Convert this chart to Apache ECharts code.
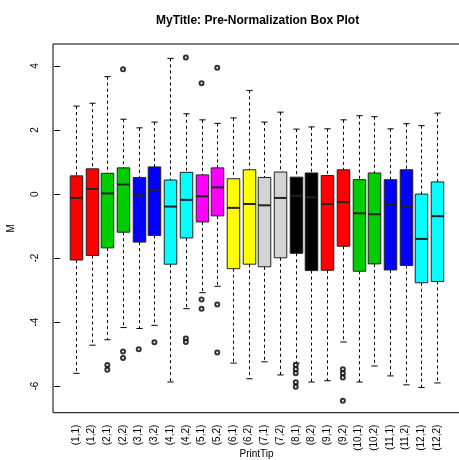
<!DOCTYPE html>
<html>
<head>
<meta charset="utf-8">
<script src="https://cdn.jsdelivr.net/npm/echarts@6/dist/echarts.min.js"></script>
<style>html,body{margin:0;padding:0;background:#fff}#c{width:459px;height:460px}</style>
</head>
<body>
<div id="c"></div>
<script>
// Categories (print-tip groups)
var categories = ['(1,1)','(1,2)','(2,1)','(2,2)','(3,1)','(3,2)','(4,1)','(4,2)','(5,1)','(5,2)','(6,1)','(6,2)',
                  '(7,1)','(7,2)','(8,1)','(8,2)','(9,1)','(9,2)','(10,1)','(10,2)','(11,1)','(11,2)','(12,1)','(12,2)'];
// Box statistics, one entry per category
var whiskerLow  = [-5.60,-4.72,-4.55,-4.17,-4.20,-4.10,-5.87,-3.58,-3.08,-2.88,-5.28,-5.77,-5.24,-5.65,-5.28,-5.87,-5.83,-4.62,-5.87,-5.37,-5.68,-5.96,-6.04,-5.90];
var q1          = [-2.06,-1.92,-1.68,-1.19,-1.50,-1.29,-2.19,-1.37,-0.87,-0.68,-2.33,-2.19,-2.27,-1.99,-1.85,-2.39,-2.38,-1.63,-2.41,-2.18,-2.37,-2.23,-2.77,-2.73];
var medians     = [-0.12, 0.16, 0.02, 0.30,-0.04, 0.13,-0.39,-0.18,-0.07, 0.21,-0.43,-0.31,-0.35,-0.12,-0.05,-0.10,-0.31,-0.25,-0.60,-0.63,-0.31,-0.38,-1.40,-0.69];
var q3          = [ 0.57, 0.79, 0.65, 0.82, 0.52, 0.85, 0.44, 0.68, 0.60, 0.82, 0.48, 0.76, 0.52, 0.69, 0.53, 0.66, 0.58, 0.76, 0.45, 0.66, 0.45, 0.76, 0.00, 0.38];
var whiskerHigh = [ 2.75, 2.84, 3.67, 2.34, 2.07, 2.25, 4.24, 2.51, 2.32, 2.21, 2.38, 3.24, 2.25, 2.56, 2.03, 2.10, 2.04, 2.32, 2.45, 2.42, 2.04, 2.20, 2.14, 2.53];
var boxColors   = ['#ff0000','#ff0000','#00cd00','#00cd00','#0000ff','#0000ff','#00ffff','#00ffff','#ff00ff','#ff00ff','#ffff00','#ffff00',
                   '#d3d3d3','#d3d3d3','#000000','#000000','#ff0000','#ff0000','#00cd00','#00cd00','#0000ff','#0000ff','#00ffff','#00ffff'];
// Outliers: [category number (1-based), value]
var outliers = [
  [3,-5.34],[3,-5.49],
  [4,3.90],[4,-4.92],[4,-5.12],
  [5,-4.85],
  [6,-4.63],
  [8,4.27],[8,-4.51],[8,-4.62],
  [9,3.46],[9,-3.29],[9,-3.58],
  [10,3.95],[10,-3.45],[10,-4.95],
  [15,-5.34],[15,-5.47],[15,-5.60],[15,-5.88],[15,-6.02],
  [18,-5.47],[18,-5.60],[18,-5.73],[18,-6.46]
];
var yTicks = [-6,-4,-2,0,2,4];

var boxData = categories.map(function (c, i) {
  return [i + 1, whiskerLow[i], q1[i], medians[i], q3[i], whiskerHigh[i]];
});
var xTicks = categories.map(function (c, i) { return i + 1; });

function renderBox(params, api) {
  var x = api.value(0);
  var lo = api.coord([x, api.value(1)]);
  var b1 = api.coord([x, api.value(2)]);
  var md = api.coord([x, api.value(3)]);
  var b3 = api.coord([x, api.value(4)]);
  var hi = api.coord([x, api.value(5)]);
  var bw = api.size([0.8, 0])[0];
  var sw = bw / 2;
  var cx = Math.round(lo[0]) + 0.5;
  var dash = {stroke: '#000', lineWidth: 1, lineDash: [3, 3]};
  var solid = {stroke: '#000', lineWidth: 1};
  return {
    type: 'group',
    children: [
      {type: 'line', shape: {x1: cx, y1: hi[1], x2: cx, y2: b3[1]}, style: dash},
      {type: 'line', shape: {x1: cx, y1: b1[1], x2: cx, y2: lo[1]}, style: dash},
      {type: 'line', shape: {x1: cx - sw / 2, y1: hi[1], x2: cx + sw / 2, y2: hi[1]}, style: solid},
      {type: 'line', shape: {x1: cx - sw / 2, y1: lo[1], x2: cx + sw / 2, y2: lo[1]}, style: solid},
      {type: 'rect', shape: {x: cx - bw / 2, y: b3[1], width: bw, height: b1[1] - b3[1]},
        style: {fill: boxColors[params.dataIndex], stroke: '#222', lineWidth: 1}},
      {type: 'line', shape: {x1: cx - bw / 2, y1: md[1], x2: cx + bw / 2, y2: md[1]},
        style: {stroke: '#222', lineWidth: 2}}
    ]
  };
}

var chart = echarts.init(document.getElementById('c'), null, {renderer: 'canvas'});
chart.setOption({
  animation: false,
  backgroundColor: '#fff',
  title: {
    text: 'MyTitle: Pre-Normalization Box Plot',
    left: 151, top: 10,
    textStyle: {fontFamily: 'Liberation Sans', fontWeight: 'bold', fontSize: 12, color: '#000'}
  },
  grid: {
    left: 53, top: 44, width: 407, height: 368.7,
    show: true, borderColor: '#000', borderWidth: 1,
    containLabel: false, outerBoundsMode: 'none'
  },
  xAxis: {
    type: 'value', min: -0.46, max: 25.46,
    name: 'PrintTip', nameLocation: 'middle', nameGap: 37, nameMoveOverlap: false,
    nameTextStyle: {fontFamily: 'Liberation Sans', fontSize: 10, color: '#000'},
    axisLine: {show: false},
    splitLine: {show: false},
    axisTick: {show: true, length: 6, customValues: xTicks, lineStyle: {color: '#000'}},
    axisLabel: {
      customValues: xTicks, rotate: 90, margin: 12,
      fontFamily: 'Liberation Sans', fontSize: 10, color: '#000',
      formatter: function (v) { return categories[Math.round(v) - 1] || ''; }
    }
  },
  yAxis: {
    type: 'value', min: -6.83, max: 4.69,
    name: 'M', nameLocation: 'middle', nameGap: 37, nameRotate: 90, nameMoveOverlap: false,
    nameTextStyle: {fontFamily: 'Liberation Sans', fontSize: 10, color: '#000'},
    axisLine: {show: false},
    splitLine: {show: false},
    axisTick: {show: true, length: 6, customValues: yTicks, lineStyle: {color: '#000'}},
    axisLabel: {
      customValues: yTicks, rotate: 90, margin: 13,
      fontFamily: 'Liberation Sans', fontSize: 10, color: '#000'
    }
  },
  series: [
    {
      type: 'custom',
      renderItem: renderBox,
      data: boxData,
      encode: {x: 0, y: [1, 2, 3, 4, 5]},
      clip: false
    },
    {
      type: 'scatter',
      data: outliers,
      symbol: 'emptyCircle',
      symbolSize: 4,
      itemStyle: {color: '#000', borderColor: '#000', borderWidth: 0.8}
    }
  ]
});
</script>
</body>
</html>
